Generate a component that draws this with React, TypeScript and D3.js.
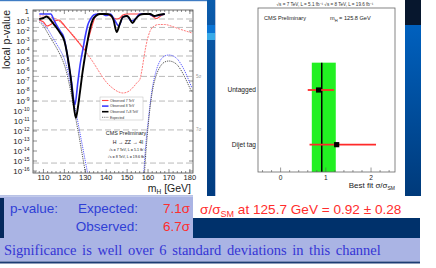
import React from 'react';
import * as d3 from 'd3';

// left panel: local p-value vs m_H (values stored as log10 p)
const obs7Mass = [108, 110, 111.7, 113, 114.5, 116, 117.5, 119, 121, 123, 125, 127, 128.5, 129.6, 130.5, 132, 133.5, 135, 136, 140, 142, 143.5, 145, 146.5, 148, 150, 160, 162, 164, 166, 168];
const obs7LogP = [-0.9, -1.1, -1.5, -1.4, -1.2, -0.95, -0.9, -1.2, -1.7, -2.2, -2.7, -3.2, -3.6, -3.9, -3.4, -2.4, -1.3, -0.5, -0.3, -0.3, -0.5, -0.7, -0.8, -0.7, -0.4, -0.3, -0.3, -0.5, -0.75, -0.5, -0.3];

const obs8Mass = [108, 110, 113.5, 115, 116.5, 118.3, 119.5, 121, 122, 123.5, 125, 126.4, 127.5, 128.8, 130, 131.2, 132.5, 134, 136, 138, 140, 142, 144, 146, 148, 150, 152, 154, 156, 160, 163, 166, 168];
const obs8LogP = [-0.3, -0.3, -0.3, -0.9, -1.5, -2.1, -2.5, -3.9, -5.3, -7.2, -9.4, -7.2, -5.4, -3.9, -2.5, -1.4, -0.8, -0.4, -0.3, -0.3, -0.45, -0.3, -0.9, -1.5, -0.6, -0.5, -1.0, -0.8, -0.3, -0.3, -0.5, -0.4, -0.3];

const obs78Mass = [108, 110, 111.5, 113, 114.5, 116, 118, 120, 121.5, 123, 124.2, 125.5, 126.5, 127.4, 128.5, 129.8, 131, 132.1, 133.5, 135, 137, 140, 142, 143.5, 145, 146.5, 148, 150, 151, 152.6, 154, 156, 158, 161, 163, 165, 168];
const obs78LogP = [-0.8, -0.7, -0.55, -0.8, -1.2, -1.6, -2.2, -3.0, -4.5, -6.6, -8.9, -10.7, -9.6, -8.2, -6.4, -4.6, -3.1, -1.9, -0.9, -0.5, -0.3, -0.3, -0.4, -0.9, -2.1, -1.3, -0.6, -0.5, -0.7, -1.2, -0.8, -0.4, -0.3, -0.3, -0.5, -0.4, -0.3];

const exp7Mass = [108, 110, 113, 116, 119, 122, 125, 128, 131, 134, 137, 140, 143, 146, 148, 151, 153, 155, 156, 157, 158, 159, 160, 161, 163, 165, 168, 171, 175, 178, 181];
const exp7LogP = [-0.5, -0.5, -0.6, -0.8, -1.3, -1.9, -2.6, -3.4, -4.3, -5.2, -6.2, -7.1, -7.7, -8.1, -8.2, -8.0, -7.6, -7.1, -6.9, -6.0, -4.7, -3.5, -2.6, -2.0, -1.5, -1.35, -1.35, -1.5, -1.8, -2.0, -2.2];

const exp8Mass = [108, 110, 112, 114, 116, 118, 120, 121, 122, 123, 124, 125, 126, 127, 128, 129, 130, 131, 132, 133, 157, 158, 159, 160, 161, 162, 164, 166, 168, 170, 172, 174, 176, 178, 180, 181];
const exp8LogP = [-0.9, -1.3, -1.8, -2.5, -3.2, -3.9, -4.8, -5.5, -6.4, -7.4, -8.5, -9.6, -10.6, -11.7, -12.8, -13.9, -15.0, -16.1, -17.2, -18.3, -17.5, -16.0, -13.2, -11.2, -9.3, -7.8, -5.9, -4.9, -4.5, -4.4, -4.5, -4.8, -5.4, -6.2, -7.2, -7.7];

const exp78Mass = [108, 110, 112, 114, 116, 118, 120, 121, 122, 123, 124, 125, 126, 127, 128, 129, 130, 131, 132, 157, 158, 159, 160, 161, 162, 164, 166, 168, 170, 172, 174, 176, 178, 180, 181];
const exp78LogP = [-1.1, -1.5, -2.2, -2.9, -3.6, -4.4, -5.4, -6.1, -7.0, -8.0, -9.1, -10.2, -11.4, -12.5, -13.7, -14.9, -16.1, -17.3, -18.5, -18.5, -17.0, -14.0, -11.6, -9.6, -8.1, -6.4, -5.5, -5.1, -5.0, -5.1, -5.4, -6.0, -6.8, -7.7, -8.1];

const sigmaP = [0.1587, 0.02275, 1.35e-3, 3.17e-5, 2.87e-7, 9.87e-10, 1.28e-12, 6.22e-16];
const sigmaLabels = ['', '', '', '', '5σ', '', '7σ', ''];
const massTicks = [110, 120, 130, 140, 150, 160, 170, 180];
const decades = [0, -1, -2, -3, -4, -5, -6, -7, -8, -9, -10, -11, -12, -13, -14, -15, -16];
const legendLabels = ['Observed 7 TeV', 'Observed 8 TeV', 'Observed 7+8 TeV', 'Expected'];

// right panel: best fit signal strength per category
const categories = ['Dijet tag', 'Untagged'];
const muBest = [1.24, 0.84];
const muLow = [0.64, 0.6];
const muHigh = [2.11, 1.18];
const muComb = [0.91];
const muBand = [0.69, 1.22];
const muTicks = [0, 1, 2];

const SANS = '"Liberation Sans", Arial, sans-serif';

export default function App() {
  const x = d3.scaleLinear().domain([105, 181.5]).range([33, 193]);
  const y = d3.scaleLog().domain([10 ** -16.2, 10 ** 0.1]).range([173, 10]);
  const [fx0, fx1] = x.range();
  const [fy1, fy0] = y.range();

  const path = (m: number[], lp: number[]) =>
    d3.line<number>()
      .x((_, i) => x(m[i]))
      .y(d => y(10 ** d))
      .curve(d3.curveMonotoneX)(lp) || '';

  const series = [
    { d: path(exp7Mass, exp7LogP), color: '#ff6a6a', w: 0.9, dash: '2,1' },
    { d: path(exp8Mass, exp8LogP), color: '#5a5aff', w: 1, dash: '1.2,1' },
    { d: path(exp78Mass, exp78LogP), color: '#555', w: 1, dash: '1.2,1' },
    { d: path(obs7Mass, obs7LogP), color: '#ff4040', w: 1.1, dash: '' },
    { d: path(obs8Mass, obs8LogP), color: '#3b3bff', w: 1.6, dash: '' },
    { d: path(obs78Mass, obs78LogP), color: '#000', w: 1.9, dash: '' },
  ];
  const legendStyle = [
    { color: '#ff4040', w: 1.1, dash: '' },
    { color: '#3b3bff', w: 1.6, dash: '' },
    { color: '#000', w: 1.6, dash: '' },
    { color: '#555', w: 0.8, dash: '1,0.8' },
  ];

  const minorX = d3.range(106, 182, 2);

  // right panel scales
  const xr = d3.scaleLinear().domain([-0.5, 2.53]).range([258, 395]);
  const yr = d3.scaleLinear().domain([-0.5, 2.5]).range([172, 8]);
  const minorMu = d3.range(-0.4, 2.5, 0.2);

  return (
    <svg width={436} height={268} style={{ position: 'absolute', left: 0, top: 0 }} fontFamily={SANS}>
      <defs>
        <clipPath id="pframe">
          <rect x={fx0} y={fy0} width={fx1 - fx0} height={fy1 - fy0} />
        </clipPath>
        <linearGradient id="sep" x1="0" y1="0" x2="0" y2="1">
          <stop offset="0" stopColor="#0b5cac" />
          <stop offset="1" stopColor="#013c80" />
        </linearGradient>
        <linearGradient id="strip" x1="0" y1="0" x2="0" y2="1">
          <stop offset="0" stopColor="#0066c8" />
          <stop offset="1" stopColor="#003a7a" />
        </linearGradient>
      </defs>
      <rect width={436} height={268} fill="#fff" />

      {/* slide chrome */}
      <rect x={0} y={0} width={207} height={1.2} fill="#3f7cc4" />
      <rect x={207} y={0} width={9} height={196} fill="url(#sep)" />
      <rect x={207} y={25} width={9} height={8} fill="#0a74d4" />
      <rect x={207} y={33} width={9} height={7} fill="#38aae8" />
      <rect x={215} y={0} width={1} height={196} fill="#b9c4de" />
      <rect x={405} y={0} width={16} height={196} fill="url(#strip)" />
      <rect x={405} y={0} width={16} height={25} fill="#07172e" />
      <rect x={0} y={195} width={193} height={1.5} fill="#b8c2e6" />

      {/* ---------- left plot ---------- */}
      {sigmaP.map((p, i) => (
        <g key={'s' + i}>
          <line x1={fx0} x2={fx1} y1={y(p)} y2={y(p)} stroke="#a8a8a8" strokeWidth={0.8} strokeDasharray="6,3" />
          {sigmaLabels[i] && (
            <text x={fx1 + 3} y={y(p) + 1.5} fontSize={4.5} fill="#999">{sigmaLabels[i]}</text>
          )}
        </g>
      ))}
      <g clipPath="url(#pframe)">
        {series.map((s, i) => (
          <path key={i} d={s.d} fill="none" stroke={s.color} strokeWidth={s.w} strokeDasharray={s.dash || undefined} strokeLinejoin="round" />
        ))}
      </g>
      <rect x={fx0} y={fy0} width={fx1 - fx0} height={fy1 - fy0} fill="none" stroke="#444" strokeWidth={0.8} />
      {minorX.map(m => {
        const len = m % 10 === 0 ? 4 : 2;
        return (
          <g key={'mx' + m}>
            <line x1={x(m)} x2={x(m)} y1={fy1} y2={fy1 - len} stroke="#444" strokeWidth={0.6} />
            <line x1={x(m)} x2={x(m)} y1={fy0} y2={fy0 + len} stroke="#444" strokeWidth={0.6} />
          </g>
        );
      })}
      {decades.map(e => (
        <g key={'d' + e}>
          <line x1={fx0} x2={fx0 + 4} y1={y(10 ** e)} y2={y(10 ** e)} stroke="#444" strokeWidth={0.6} />
          <line x1={fx1} x2={fx1 - 4} y1={y(10 ** e)} y2={y(10 ** e)} stroke="#444" strokeWidth={0.6} />
          {e === 0 ? (
            <text x={29} y={y(1) + 3} fontSize={8} textAnchor="end" fill="#222">1</text>
          ) : (
            <text x={29.5} y={y(10 ** e) + 3} fontSize={8} textAnchor="end" fill="#222">
              10<tspan dy={-3.5} fontSize={5}>{e}</tspan>
            </text>
          )}
        </g>
      ))}
      {massTicks.map(m => (
        <text key={'t' + m} x={x(m)} y={fy1 + 6.5} fontSize={7.5} textAnchor="middle" fill="#222">{m}</text>
      ))}
      <text transform={`translate(10,${fy0}) rotate(-90)`} fontSize={10.5} textAnchor="end" fill="#222">local p-value</text>
      <text x={fx1 - 2} y={191.5} fontSize={10.5} textAnchor="end" fill="#222">
        m<tspan dy={2.5} fontSize={6.5}>H</tspan><tspan dy={-2.5}> [GeV]</tspan>
      </text>

      {/* legend */}
      <rect x={100} y={97} width={43} height={23} fill="#fff" stroke="#bbb" strokeWidth={0.5} />
      {legendLabels.map((lab, i) => (
        <g key={lab}>
          <line x1={102} x2={108.5} y1={100.5 + i * 5.6} y2={100.5 + i * 5.6} stroke={legendStyle[i].color} strokeWidth={legendStyle[i].w} strokeDasharray={legendStyle[i].dash || undefined} />
          <text x={110} y={101.8 + i * 5.6} fontSize={3.4} fill="#333">{lab}</text>
        </g>
      ))}
      <text x={126} y={135} fontSize={5.4} textAnchor="middle" fill="#222">CMS Preliminary</text>
      <text x={128} y={143.5} fontSize={5.2} textAnchor="middle" fill="#222">H → ZZ → 4l</text>
      <text x={127} y={150.5} fontSize={3.7} textAnchor="middle" fill="#222">√s = 7 TeV, L = 5.1 fb⁻¹</text>
      <text x={127} y={158} fontSize={3.7} textAnchor="middle" fill="#222">√s = 8 TeV, L = 19.6 fb⁻¹</text>

      {/* ---------- right plot ---------- */}
      <text x={325} y={6} fontSize={4.6} textAnchor="middle" fill="#333">√s = 7 TeV, L = 5.1 fb⁻¹   √s = 8 TeV, L = 19.6 fb⁻¹</text>
      <rect x={xr(muBand[0])} y={yr(1.5)} width={xr(muBand[1]) - xr(muBand[0])} height={yr(-0.5) - yr(1.5)} fill="#22f022" />
      <line x1={xr(muComb[0])} x2={xr(muComb[0])} y1={yr(1.5)} y2={yr(-0.5)} stroke="#000" strokeWidth={1.5} />
      {categories.map((c, i) => (
        <g key={c}>
          <line x1={xr(muLow[i])} x2={xr(muHigh[i])} y1={yr(i)} y2={yr(i)} stroke="#ff2a2a" strokeWidth={1.8} />
          <rect x={xr(muBest[i]) - 2.6} y={yr(i) - 2.6} width={5.2} height={5.2} fill="#000" />
          <text x={256} y={yr(i) + 2.3} fontSize={6.6} textAnchor="end" fill="#222">{c}</text>
        </g>
      ))}
      <rect x={258} y={8} width={137} height={164} fill="none" stroke="#666" strokeWidth={0.8} />
      {minorMu.map((v, i) => {
        const major = Math.abs(v - Math.round(v)) < 1e-6;
        return <line key={'mm' + i} x1={xr(v)} x2={xr(v)} y1={172} y2={172 - (major ? 4.5 : 2)} stroke="#555" strokeWidth={0.6} />;
      })}
      {muTicks.map(t => (
        <text key={'mt' + t} x={xr(t)} y={180} fontSize={6.6} textAnchor="middle" fill="#222">{t}</text>
      ))}
      <text x={264} y={20} fontSize={5.6} fill="#222">CMS Preliminary</text>
      <text x={330} y={20} fontSize={5.6} fill="#222">
        m<tspan dy={1.5} fontSize={4}>H</tspan><tspan dy={-1.5}> = 125.8 GeV</tspan>
      </text>
      <text x={395} y={188} fontSize={8} textAnchor="end" fill="#222">
        Best fit σ/σ<tspan dy={2} fontSize={5}>SM</tspan>
      </text>

      {/* ---------- bottom text boxes ---------- */}
      <rect x={0} y={196.5} width={193} height={42} fill="#aab4e4" />
      <rect x={0} y={198} width={4} height={40} fill="#04295c" />
      <rect x={193} y={218} width={227} height={20} fill="#00316b" />
      <rect x={0} y={238} width={420} height={23.5} fill="#aab4e4" />
      <rect x={0} y={261.5} width={420} height={2} fill="#1d3d74" />

      <text x={10} y={213} fontSize={13.5} fill="#2f3fd6">p-value:</text>
      <text x={138} y={213} fontSize={13.5} fill="#2f3fd6" textAnchor="end">Expected:</text>
      <text x={138} y={231} fontSize={13.5} fill="#2f3fd6" textAnchor="end">Observed:</text>
      <text x={190} y={213} fontSize={13.5} fill="#ff2d2d" textAnchor="end">7.1σ</text>
      <text x={190} y={231} fontSize={13.5} fill="#ff2d2d" textAnchor="end">6.7σ</text>
      <text x={200} y={214} fontSize={13.6} fill="#ff2d2d">
        σ/σ<tspan dy={3} fontSize={9}>SM</tspan><tspan dy={-3}> at 125.7 GeV = 0.92 ± 0.28</tspan>
      </text>
      <text x={4} y={255} fontSize={14.5} fill="#3535d5" fontFamily='"Liberation Serif", "Times New Roman", serif' wordSpacing={2}>
        Significance is well over 6 standard deviations in this channel
      </text>
    </svg>
  );
}
